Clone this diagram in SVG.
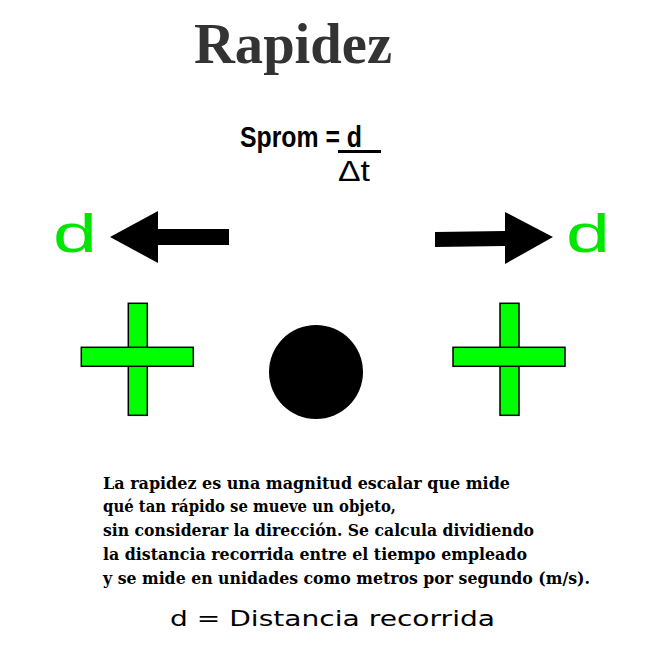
<svg xmlns="http://www.w3.org/2000/svg" width="648" height="648" viewBox="0 0 648 648">
<style>
.cross{fill:#00ff00;stroke:#000;stroke-width:1.5}
.arrow{fill:#000}
.gd{font-family:"Liberation Sans",Arial,sans-serif;font-size:53px;fill:#00e600}
.para{font-family:"DejaVu Serif",serif;font-weight:bold;font-size:16.5px;fill:#000}
</style>
<rect width="648" height="648" fill="#fff"/>
<g id="title">
<text x="194" y="63" font-family="Liberation Serif,serif" font-weight="bold" font-size="56" fill="#333" textLength="198" lengthAdjust="spacingAndGlyphs">Rapidez</text>
</g>
<g id="formula">
<text x="240" y="147" font-family="Liberation Sans,Arial,sans-serif" font-weight="bold" font-size="30" fill="#000" textLength="122" lengthAdjust="spacingAndGlyphs">Sprom = d</text>
<rect x="338" y="150" width="43" height="3" fill="#000"/>
<text x="338" y="181" font-family="Liberation Sans,Arial,sans-serif" font-size="30" fill="#000" textLength="32" lengthAdjust="spacingAndGlyphs">Δt</text>
</g>
<g id="connectors">
<polygon class="arrow" points="110,237 158,211 158,229 229,229 229,245 158,245 158,263"/>
<polygon class="arrow" points="553,237 505,212 505,231 435,232 435,247 505,246 505,264"/>
</g>
<g id="d-left"><text class="gd" x="53" y="252" textLength="44" lengthAdjust="spacingAndGlyphs">d</text></g>
<g id="d-right"><text class="gd" x="566" y="252" textLength="44" lengthAdjust="spacingAndGlyphs">d</text></g>
<g id="cross-left">
<rect class="cross" x="128.3" y="303.3" width="19" height="112"/>
<rect class="cross" x="81.3" y="347.3" width="112" height="19"/>
</g>
<g id="object"><circle cx="316" cy="372" r="47" fill="#000"/></g>
<g id="cross-right">
<rect class="cross" x="500" y="303.3" width="19" height="112"/>
<rect class="cross" x="453" y="347.3" width="112" height="19"/>
</g>
<g id="description">
<text class="para" x="103" y="489" textLength="407" lengthAdjust="spacingAndGlyphs">La rapidez es una magnitud escalar que mide</text>
<text class="para" x="103" y="512" textLength="293" lengthAdjust="spacingAndGlyphs">qué tan rápido se mueve un objeto,</text>
<text class="para" x="103" y="536" textLength="431" lengthAdjust="spacingAndGlyphs">sin considerar la dirección. Se calcula dividiendo</text>
<text class="para" x="103" y="560" textLength="424" lengthAdjust="spacingAndGlyphs">la distancia recorrida entre el tiempo empleado</text>
<text class="para" x="103" y="584" textLength="487" lengthAdjust="spacingAndGlyphs">y se mide en unidades como metros por segundo (m/s).</text>
</g>
<g id="legend">
<text x="170" y="626" font-family="DejaVu Sans,sans-serif" font-size="22" fill="#000" textLength="325" lengthAdjust="spacingAndGlyphs">d = Distancia recorrida</text>
</g>
</svg>
